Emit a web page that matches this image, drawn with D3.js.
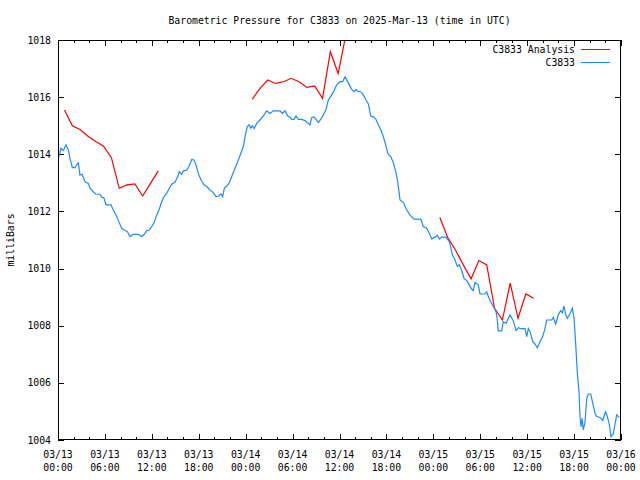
<!DOCTYPE html>
<html><head><meta charset="utf-8">
<script src="https://cdn.jsdelivr.net/npm/d3@7"></script>
<style>
body{margin:0;background:#fff}
text{font-family:"DejaVu Sans Mono","Liberation Mono",monospace;font-size:9.8px;fill:#000}
</style>
</head><body><svg id="c" width="640" height="480"></svg>
<script>
const title = "Barometric Pressure for C3833 on 2025-Mar-13 (time in UTC)";
const yLabel = "milliBars";
const seriesNames = ["C3833 Analysis", "C3833"];
const seriesColors = ["#ff0000", "#1e8cff"];
const yTicks = [1004, 1006, 1008, 1010, 1012, 1014, 1016, 1018];
const xTickDates = ["03/13","03/13","03/13","03/13","03/14","03/14","03/14","03/14","03/15","03/15","03/15","03/15","03/16"];
const xTickTimes = ["00:00","06:00","12:00","18:00","00:00","06:00","12:00","18:00","00:00","06:00","12:00","18:00","00:00"];

// Analysis (hours since 03/13 00:00 UTC); null marks a gap
const anaHours = [0.83,1.83,2.83,3.83,4.83,5.83,6.83,7.83,8.83,9.83,10.83,11.83,12.83, 18,
  24.83,25.83,26.83,27.83,28.83,29.83,30.83,31.83,32.83,33.83,34.83,35.83,36.83, 42,
  48.83,49.83,50.83,51.83,52.83,53.83,54.83,55.83,56.83,57.83,58.83,59.83,60.83];
const anaValues = [1015.55,1015.0,1014.87,1014.63,1014.45,1014.28,1013.88,1012.81,1012.93,1012.96,1012.54,1012.98,1013.42, null,
  1015.92,1016.31,1016.6,1016.48,1016.54,1016.66,1016.54,1016.34,1016.39,1015.96,1017.59,1016.83,1018.2, null,
  1011.79,1011.09,1010.65,1010.13,1009.64,1010.28,1010.13,1008.61,1008.2,1009.49,1008.26,1009.11,1008.96];

// Observations
const obsHours = [0.13,0.38,0.68,1.02,1.32,1.53,1.83,2.17,2.52,2.6,2.81,3.07,3.45,3.88,4.09,4.51,4.82,5.37,5.59,5.88,
  6.14,6.78,7.07,7.51,7.84,8.15,8.57,8.86,9.21,9.63,10.27,10.7,11.04,11.34,11.68,11.98,12.28,12.62,12.92,13.26,
  13.56,13.9,14.23,14.54,14.96,15.31,15.51,15.82,16.03,16.46,16.75,17.1,17.39,17.65,17.94,18.29,18.67,19.02,19.44,19.86,
  20.21,20.5,20.85,21.06,21.27,21.58,21.87,22.22,22.64,22.98,23.28,23.7,23.92,24.21,24.43,24.65,24.85,25.07,25.41,25.83,
  26.26,26.69,27.11,27.54,28.39,28.69,29.03,29.38,29.67,29.89,30.18,30.44,30.73,31.17,31.59,31.88,32.23,32.45,32.74,33.0,
  33.29,33.6,33.93,34.28,34.57,35.0,35.34,35.64,36.07,36.41,36.71,37.0,37.26,37.56,37.86,38.11,38.33,38.71,39.05,39.39,
  39.69,39.99,40.32,40.67,40.96,41.27,41.6,41.91,42.2,42.55,42.88,43.19,43.39,43.56,43.74,44.16,44.6,45.02,45.53,46.39,
  46.72,47.15,47.49,47.79,48.22,48.51,48.77,49.07,49.62,50.04,50.22,50.43,50.77,51.07,51.32,51.63,51.92,52.27,52.6,52.82,
  53.11,53.33,53.75,53.97,54.61,54.83,55.03,55.34,55.67,56.02,56.18,56.31,56.75,56.95,57.3,57.81,58.23,58.58,58.87,59.18,
  59.73,59.94,60.15,60.37,60.71,61.0,61.3,61.64,61.99,62.28,62.5,63.14,63.34,63.65,63.98,64.29,64.5,64.71,64.93,65.14,
  65.48,65.78,66.0,66.21,66.42,66.63,66.76,66.89,67.02,67.18,67.4,67.62,67.82,68.13,68.39,68.68,68.9,69.32,69.66,69.83,
  70.04,70.25,70.5,70.72,71.01,71.24,71.45,71.79];
const obsValues = [1013.92,1014.21,1014.13,1014.33,1014.15,1013.86,1013.53,1013.53,1013.68,1013.7,1013.27,1013.3,1013.04,1012.98,1012.81,1012.69,1012.61,1012.6,1012.5,1012.47,
  1012.23,1012.23,1012.05,1011.82,1011.6,1011.41,1011.33,1011.3,1011.12,1011.2,1011.2,1011.12,1011.2,1011.33,1011.35,1011.47,1011.6,1011.87,1012.05,1012.34,
  1012.52,1012.63,1012.81,1012.95,1013.02,1013.22,1013.39,1013.3,1013.42,1013.45,1013.57,1013.82,1013.8,1013.63,1013.33,1013.1,1012.93,1012.87,1012.75,1012.66,
  1012.52,1012.53,1012.61,1012.52,1012.81,1012.89,1012.98,1013.22,1013.51,1013.74,1013.96,1014.27,1014.62,1014.97,1015.03,1014.91,1015.0,1014.9,1015.08,1015.2,
  1015.34,1015.52,1015.43,1015.52,1015.52,1015.43,1015.52,1015.34,1015.3,1015.22,1015.22,1015.34,1015.22,1015.22,1015.18,1015.11,1015.03,1015.29,1015.31,1015.22,
  1015.11,1015.22,1015.38,1015.57,1015.9,1016.08,1016.25,1016.43,1016.54,1016.54,1016.71,1016.57,1016.43,1016.27,1016.19,1016.27,1016.2,1016.19,1016.08,1015.9,
  1015.76,1015.34,1015.31,1015.22,1015.03,1014.87,1014.62,1014.33,1014.01,1013.92,1013.71,1013.39,1013.13,1012.8,1012.4,1012.31,1012.05,1011.87,1011.73,1011.73,
  1011.47,1011.41,1011.23,1011.04,1011.1,1011.17,1011.03,1011.1,1011.1,1010.94,1010.77,1010.48,1010.3,1010.07,1010.13,1009.93,1009.66,1009.58,1009.43,1009.31,
  1009.23,1009.51,1009.43,1009.11,1009.11,1009.19,1009.02,1008.84,1008.67,1008.49,1008.2,1007.82,1007.82,1008.14,1008.08,1008.38,1008.17,1007.83,1007.93,1007.9,
  1007.9,1007.62,1007.9,1007.79,1007.44,1007.36,1007.23,1007.44,1007.62,1007.91,1008.2,1008.2,1008.29,1008.06,1008.38,1008.53,1008.45,1008.69,1008.38,1008.26,
  1008.43,1008.61,1008.26,1007.33,1006.33,1005.69,1004.82,1004.47,1004.76,1004.35,1004.64,1005.46,1005.61,1005.61,1005.28,1004.93,1004.82,1004.79,1004.68,1004.84,
  1004.99,1004.82,1004.56,1004.12,1004.21,1004.56,1004.88,1004.79];

const L = 58, R = 621, T = 40, B = 440;
const svg = d3.select("#c");
const x = d3.scaleLinear().domain([0, 72]).range([L, R]);
const y = d3.scaleLinear().domain([1004, 1018]).range([B, T]);

svg.append("defs").append("clipPath").attr("id","clip")
  .append("rect").attr("x", L).attr("y", T).attr("width", R - L).attr("height", B - T);

// ticks
const ticksG = svg.append("g").attr("stroke", "#000").attr("stroke-width", 1).attr("shape-rendering", "crispEdges");
const minorX = d3.range(0, 73, 2);
const majorX = d3.range(0, 73, 6);
minorX.forEach(h => {
  const isMajor = h % 6 === 0;
  const len = isMajor ? 6 : 3;
  const px = Math.round(x(h)) + 0.5;
  ticksG.append("line").attr("x1", px).attr("x2", px).attr("y1", B).attr("y2", B - len);
  ticksG.append("line").attr("x1", px).attr("x2", px).attr("y1", T).attr("y2", T + len);
});
yTicks.forEach(v => {
  const py = Math.round(y(v)) + 0.5;
  ticksG.append("line").attr("x1", L).attr("x2", L + 6).attr("y1", py).attr("y2", py);
  ticksG.append("line").attr("x1", R).attr("x2", R - 6).attr("y1", py).attr("y2", py);
});

// y labels
svg.append("g").selectAll("text").data(yTicks).join("text")
  .attr("x", 51).attr("y", d => y(d) + 3.5).attr("text-anchor", "end").text(d => d);

// x labels
const xl = svg.append("g").selectAll("text").data(majorX).join("text")
  .attr("text-anchor", "middle");
xl.append("tspan").attr("x", d => x(d)).attr("y", 458).text((d, i) => xTickDates[i]);
xl.append("tspan").attr("x", d => x(d)).attr("y", 471).text((d, i) => xTickTimes[i]);

// title & axis label
svg.append("text").attr("x", (L + R) / 2).attr("y", 23.5).attr("text-anchor", "middle").text(title);
svg.append("text").attr("transform", "translate(14,240) rotate(-90)").attr("text-anchor", "middle").text(yLabel);

// data lines
const plot = svg.append("g").attr("clip-path", "url(#clip)");
const obs = obsHours.map((h, i) => [h, obsValues[i]]);
const ana = anaHours.map((h, i) => [h, anaValues[i]]);
const line = d3.line().defined(d => d[1] != null).x(d => x(d[0])).y(d => y(d[1]));
plot.append("path").attr("d", line(ana)).attr("fill", "none").attr("stroke", seriesColors[0]).attr("stroke-width", 1.2);
plot.append("path").attr("d", line(obs)).attr("fill", "none").attr("stroke", seriesColors[1]).attr("stroke-width", 1.2);

// legend
[0, 1].forEach(i => {
  const ly = 49.5 + i * 13;
  svg.append("text").attr("x", 575).attr("y", ly + 3.5).attr("text-anchor", "end").text(seriesNames[i]);
  svg.append("line").attr("x1", 581).attr("x2", 610).attr("y1", ly).attr("y2", ly)
    .attr("stroke", seriesColors[i]).attr("stroke-width", 1).attr("shape-rendering", "crispEdges");
});

// border
svg.append("rect").attr("x", L + 0.5).attr("y", T + 0.5).attr("width", R - L - 1).attr("height", B - T - 1)
  .attr("fill", "none").attr("stroke", "#000").attr("stroke-width", 1).attr("shape-rendering", "crispEdges");
</script>
</body></html>
